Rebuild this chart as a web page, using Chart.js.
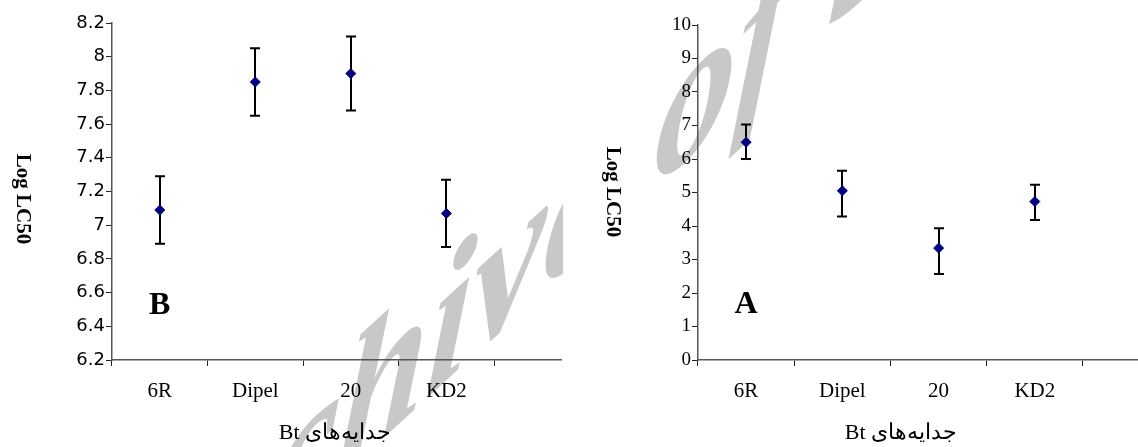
<!DOCTYPE html>
<html>
<head>
<meta charset="utf-8">
<script src="https://cdn.jsdelivr.net/npm/chart.js@4.4.0/dist/chart.umd.min.js"></script>
<style>
  html, body { margin: 0; padding: 0; background: #fff; width: 1138px; height: 447px; overflow: hidden; }
  #mark { position: absolute; left: 0; top: 0; }
  #left { position: absolute; left: 0; top: 0; width: 565px; height: 447px; overflow: hidden; }
  #right { position: absolute; left: 565px; top: 0; width: 573px; height: 447px; overflow: hidden; }
</style>
</head>
<body>
<canvas id="mark" width="1138" height="447"></canvas>
<div id="left"><canvas id="chartB" width="567" height="447"></canvas></div>
<div id="right"><canvas id="chartA" width="600" height="447"></canvas></div>
<script>
const isolates = ['6R', 'Dipel', '20', 'KD2'];

// panel B
const valuesB = [7.09, 7.85, 7.90, 7.07];
const plusB = [0.20, 0.20, 0.22, 0.20];
const minusB = [0.20, 0.20, 0.22, 0.20];

// panel A
const valuesA = [6.50, 5.05, 3.34, 4.73];
const plusA = [0.53, 0.60, 0.59, 0.50];
const minusA = [0.50, 0.77, 0.77, 0.55];

const yTitle = 'Log LC50';
const xTitle = 'جدایه\u200Cهای Bt';
const watermark = 'Archive of SID';

// grey slanted watermark behind both panels (hidden in the gap between them)
const mctx = document.getElementById('mark').getContext('2d');
mctx.setTransform(0.786, -0.7225, -0.08, 0.95, 92, 706);
mctx.fillStyle = '#c8c8c8';
mctx.font = 'italic bold 205px "Liberation Serif"';
mctx.textBaseline = 'alphabetic';
mctx.fillText(watermark, 0, 0);
mctx.setTransform(1, 0, 0, 1, 0, 0);
mctx.clearRect(563, 0, 92, 447);

// error bars drawn under the diamonds
const errorBars = {
  id: 'errorBars',
  beforeDatasetsDraw(chart, args, opts) {
    const ctx = chart.ctx;
    const x = chart.scales.x, y = chart.scales.y;
    ctx.save();
    ctx.strokeStyle = '#000';
    ctx.lineWidth = 2;
    opts.values.forEach((v, i) => {
      const px = Math.round(x.getPixelForValue(i));
      const top = y.getPixelForValue(v + opts.plus[i]);
      const bot = y.getPixelForValue(v - opts.minus[i]);
      ctx.beginPath();
      ctx.moveTo(px, top); ctx.lineTo(px, bot);
      ctx.moveTo(px - 5, top); ctx.lineTo(px + 5, top);
      ctx.moveTo(px - 5, bot); ctx.lineTo(px + 5, bot);
      ctx.stroke();
    });
    ctx.restore();
  }
};

// axis titles (y reads top to bottom, x is right-to-left) and panel letter
const decorations = {
  id: 'decorations',
  afterDraw(chart, args, opts) {
    const ctx = chart.ctx;
    ctx.save();
    ctx.fillStyle = '#000';
    ctx.font = 'bold 21px "Liberation Serif"';
    ctx.textAlign = 'center';
    ctx.textBaseline = 'middle';
    ctx.translate(opts.titleX, opts.titleY);
    ctx.rotate(Math.PI / 2);
    ctx.fillText(yTitle, 0, 0);
    ctx.restore();

    ctx.save();
    ctx.fillStyle = '#000';
    ctx.font = '22px "Liberation Serif"';
    ctx.direction = 'rtl';
    ctx.textAlign = 'center';
    ctx.textBaseline = 'middle';
    ctx.fillText(xTitle, opts.xTitleX, chart.scales.x.bottom - 14);
    ctx.restore();

    ctx.save();
    ctx.fillStyle = '#000';
    ctx.font = 'bold 32px "Liberation Serif"';
    ctx.textAlign = 'center';
    ctx.textBaseline = 'middle';
    ctx.fillText(opts.letter,
      chart.scales.x.getPixelForValue(opts.letterAt[0]),
      chart.scales.y.getPixelForValue(opts.letterAt[1]));
    ctx.restore();
  }
};

function makeChart(id, cfg) {
  return new Chart(document.getElementById(id), {
    type: 'scatter',
    data: {
      datasets: [{
        data: cfg.values.map((v, i) => ({ x: i, y: v })),
        pointStyle: 'rectRot',
        pointRadius: 5,
        backgroundColor: '#000080',
        borderColor: '#000080',
        borderWidth: 1,
      }],
    },
    options: {
      responsive: false,
      animation: false,
      events: [],
      layout: { padding: { top: cfg.top, right: 0, left: 0, bottom: 0 } },
      plugins: {
        legend: { display: false },
        tooltip: { enabled: false },
        errorBars: { values: cfg.values, plus: cfg.plus, minus: cfg.minus },
        decorations: cfg.decor,
      },
      scales: {
        x: {
          type: 'linear',
          min: -0.5,
          max: cfg.xMax,
          afterBuildTicks: s => { s.ticks = isolates.map((c, i) => ({ value: i })); },
          afterFit: s => { s.height = 87; },
          grid: { offset: true, drawOnChartArea: false, tickLength: 6, tickColor: '#222' },
          border: { color: '#555', width: 1.5 },
          ticks: {
            autoSkip: false,
            maxRotation: 0,
            callback: (v, i) => isolates[i],
            font: { family: 'Liberation Serif', size: 21 },
            color: '#000',
            padding: 13,
          },
        },
        y: {
          min: cfg.yMin,
          max: cfg.yMax,
          afterFit: s => { s.width = cfg.yWidth; },
          grid: { drawOnChartArea: false, tickLength: 6, tickColor: '#222' },
          border: { color: '#555', width: 1.5 },
          ticks: {
            stepSize: cfg.yStep,
            callback: v => String(Math.round(v * 10) / 10),
            font: cfg.yFont,
            color: '#000',
            padding: 1,
          },
        },
      },
    },
    plugins: [errorBars, decorations],
  });
}

makeChart('chartB', {
  values: valuesB, plus: plusB, minus: minusB,
  yMin: 6.2, yMax: 8.2, yStep: 0.2,
  yFont: { family: 'DejaVu Sans', size: 18 },
  yWidth: 112, top: 23, xMax: 4.2,
  decor: { titleX: 22, titleY: 199, xTitleX: 335, letter: 'B', letterAt: [0, 6.52] },
});

makeChart('chartA', {
  values: valuesA, plus: plusA, minus: minusA,
  yMin: 0, yMax: 10, yStep: 1,
  yFont: { family: 'Liberation Serif', size: 19 },
  yWidth: 133, top: 25, xMax: 4.29,
  decor: { titleX: 47, titleY: 192, xTitleX: 336, letter: 'A', letterAt: [0, 1.64] },
});
</script>
</body>
</html>
